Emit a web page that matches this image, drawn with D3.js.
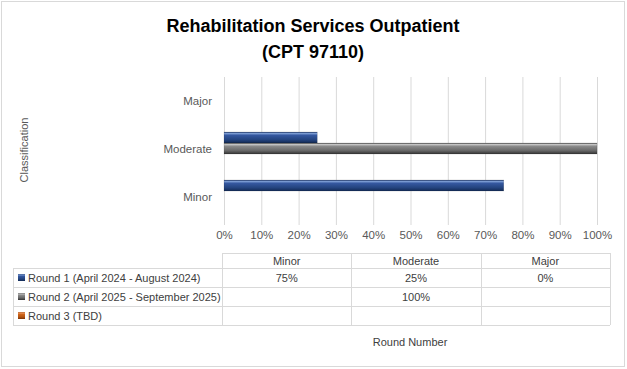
<!DOCTYPE html>
<html lang="en">
    <head>
        <meta charset="utf-8">
        <title>Rehabilitation Services Outpatient</title>
        <script src="https://d3js.org/d3.v7.min.js"></script>
        <style type="text/css">
            body { margin: 0; background: #fff; }
            text { font-family: "Liberation Sans", Arial, sans-serif; }
            .axis text { font-size: 11.5px; fill: #595959; }
            .grid line { stroke: #d9d9d9; stroke-width: 1px; }
            .tbl line { stroke: #d9d9d9; stroke-width: 1px; }
            .cell { font-size: 11px; fill: #404040; }
        </style>
    </head>
    <body>
        <script type="text/javascript">

            const w = 627;
            const h = 369;

            // data
            const categories = ["Minor", "Moderate", "Major"];
            const rounds = ["Round 1 (April 2024 - August 2024)", "Round 2 (April 2025 - September 2025)", "Round 3 (TBD)"];
            const round1 = [75, 25, 0];
            const round2 = [null, 100, null];
            const round3 = [null, null, null];
            const xTicks = [0, 10, 20, 30, 40, 50, 60, 70, 80, 90, 100];

            const seriesValues = [round1, round2, round3];
            const colors = ["blue", "grey", "orange"];

            const svg = d3.select("body").append("svg").attr("width", w).attr("height", h);

            // gradients for bevelled bars
            const defs = svg.append("defs");
            const grads = {
                blue:   [["0%", "#1a3366"], ["12%", "#7f9fd6"], ["30%", "#3558a0"], ["70%", "#24447f"], ["100%", "#132a55"]],
                grey:   [["0%", "#444"], ["12%", "#c8c8c8"], ["30%", "#8a8a8a"], ["70%", "#676767"], ["100%", "#333"]],
                orange: [["0%", "#8a3a06"], ["12%", "#f4a470"], ["30%", "#d0651b"], ["70%", "#b4530f"], ["100%", "#7a3205"]]
            };
            Object.keys(grads).forEach(k => {
                const g = defs.append("linearGradient").attr("id", "g-" + k)
                    .attr("x1", 0).attr("y1", 0).attr("x2", 0).attr("y2", 1);
                grads[k].forEach(s => g.append("stop").attr("offset", s[0]).attr("stop-color", s[1]));
            });

            // outer border
            svg.append("rect")
                .attr("x", 1.5).attr("y", 1.5)
                .attr("width", w - 4).attr("height", h - 4)
                .attr("fill", "#fff").attr("stroke", "#d9d9d9");

            // title
            svg.append("text")
                .attr("x", 313).attr("y", 32)
                .attr("text-anchor", "middle")
                .style("font-size", "18px").style("font-weight", "bold").style("fill", "#000")
                .text("Rehabilitation Services Outpatient");
            svg.append("text")
                .attr("x", 313).attr("y", 58)
                .attr("text-anchor", "middle")
                .style("font-size", "18px").style("font-weight", "bold").style("fill", "#000")
                .text("(CPT 97110)");

            // scales
            const xScale = d3.scaleLinear().domain([0, 100]).range([224, 597]);
            const yScale = d3.scaleBand().domain(categories.slice().reverse()).range([77, 221]);
            const ySub = d3.scaleBand().domain(d3.range(rounds.length)).range([7, 40]);

            // gridlines
            svg.append("g").attr("class", "grid")
                .selectAll("line").data(xTicks).enter().append("line")
                .attr("x1", d => xScale(d) + 0.5).attr("x2", d => xScale(d) + 0.5)
                .attr("y1", 77).attr("y2", 225);

            // x axis labels
            const bottomAxis = d3.axisBottom(xScale).tickValues(xTicks).tickFormat(d => d + "%").tickSize(0).tickPadding(0);
            const xg = svg.append("g").attr("class", "axis")
                .attr("transform", "translate(0,231)")
                .call(bottomAxis);
            xg.select(".domain").remove();

            // y axis labels
            const leftAxis = d3.axisLeft(yScale).tickSize(0).tickPadding(0);
            const yg = svg.append("g").attr("class", "axis")
                .attr("transform", "translate(212,0)")
                .call(leftAxis);
            yg.select(".domain").remove();

            // y title
            svg.append("text")
                .attr("transform", "translate(28,150) rotate(-90)")
                .attr("text-anchor", "middle")
                .style("font-size", "11px").style("fill", "#595959")
                .text("Classification");

            // bars
            seriesValues.forEach((vals, si) => {
                const rows = categories.map((c, i) => ({ cat: c, v: vals[i] })).filter(d => d.v !== null);
                svg.append("g").selectAll("rect").data(rows).enter().append("rect")
                    .attr("x", xScale(0))
                    .attr("y", d => yScale(d.cat) + ySub(si))
                    .attr("width", d => xScale(d.v) - xScale(0))
                    .attr("height", ySub.bandwidth())
                    .attr("fill", "url(#g-" + colors[si] + ")")
                    .attr("stroke", "#1a1a1a").attr("stroke-opacity", 0.25).attr("stroke-width", 0.5);
            });

            // data table
            const colScale = d3.scaleBand().domain(categories).range([222, 610]);
            const rowScale = d3.scaleBand().domain(d3.range(rounds.length)).range([268, 325]);
            const tbl = svg.append("g").attr("class", "tbl");

            // header top line and header cells
            tbl.append("line").attr("x1", 222).attr("x2", 610).attr("y1", 253.5).attr("y2", 253.5);
            const vx = categories.map(c => colScale(c)).concat([610]);
            tbl.selectAll(".vl").data(vx).enter().append("line")
                .attr("x1", d => Math.round(d) + 0.5).attr("x2", d => Math.round(d) + 0.5)
                .attr("y1", 253).attr("y2", 325);
            tbl.append("line").attr("x1", 13.5).attr("x2", 13.5).attr("y1", 268).attr("y2", 325);
            const hy = [268, 268 + rowScale.bandwidth(), 268 + 2 * rowScale.bandwidth(), 325];
            tbl.selectAll(".hl").data(hy).enter().append("line")
                .attr("x1", 13).attr("x2", 610)
                .attr("y1", d => Math.round(d) + 0.5).attr("y2", d => Math.round(d) + 0.5);

            tbl.selectAll(".hd").data(categories).enter().append("text")
                .attr("class", "cell")
                .attr("x", d => colScale(d) + colScale.bandwidth() / 2)
                .attr("y", 264.5)
                .attr("text-anchor", "middle")
                .text(d => d);

            // row headers with legend keys
            rounds.forEach((r, i) => {
                const yc = rowScale(i) + rowScale.bandwidth() / 2;
                tbl.append("rect")
                    .attr("x", 18).attr("y", yc - 3.5)
                    .attr("width", 7).attr("height", 7)
                    .attr("fill", "url(#g-" + colors[i] + ")");
                tbl.append("text").attr("class", "cell")
                    .attr("x", 28).attr("y", yc + 4)
                    .text(r);
                seriesValues[i].forEach((v, ci) => {
                    if (v === null) return;
                    tbl.append("text").attr("class", "cell")
                        .attr("x", colScale(categories[ci]) + colScale.bandwidth() / 2)
                        .attr("y", yc + 4)
                        .attr("text-anchor", "middle")
                        .text(v + "%");
                });
            });

            // x title
            svg.append("text")
                .attr("x", 410).attr("y", 346)
                .attr("text-anchor", "middle")
                .style("font-size", "11px").style("fill", "#404040")
                .text("Round Number");
        </script>
    </body>
</html>
